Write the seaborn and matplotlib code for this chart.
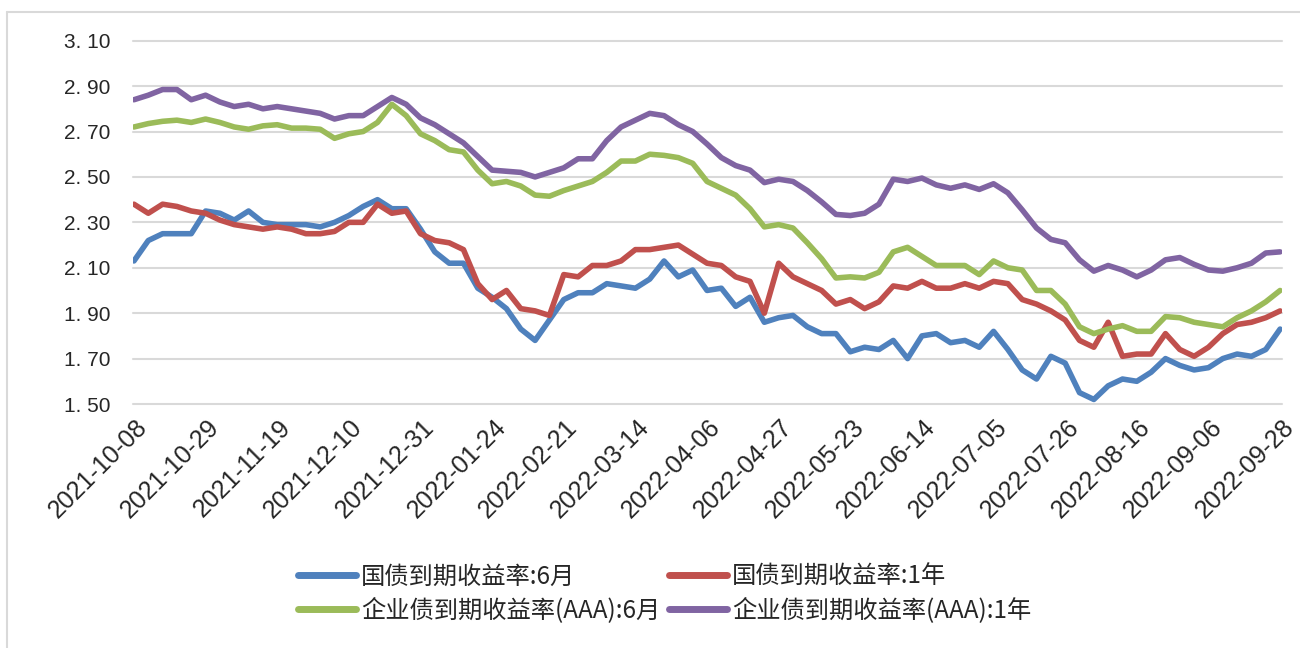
import numpy as np
import pandas as pd
import matplotlib
matplotlib.use("Agg")
import matplotlib.pyplot as plt
import matplotlib.transforms as mtransforms
from matplotlib.lines import Line2D
import seaborn as sns

# === 1. Daten ===
# x-Achse: Handelstage (jeder 3. Handelstag abgelesen), Beschriftung alle 15 Handelstage
tick_labels = [
    "2021-10-08", "2021-10-29", "2021-11-19", "2021-12-10", "2021-12-31",
    "2022-01-24", "2022-02-21", "2022-03-14", "2022-04-06", "2022-04-27",
    "2022-05-23", "2022-06-14", "2022-07-05", "2022-07-26", "2022-08-16",
    "2022-09-06", "2022-09-28",
]
day = np.arange(0, 241, 3)

gz_6m = [2.13, 2.22, 2.25, 2.25, 2.25, 2.35, 2.34, 2.31, 2.35, 2.30,
         2.29, 2.29, 2.29, 2.28, 2.30, 2.33, 2.37, 2.40, 2.36, 2.36,
         2.27, 2.17, 2.12, 2.12, 2.01, 1.97, 1.92, 1.83, 1.78, 1.87,
         1.96, 1.99, 1.99, 2.03, 2.02, 2.01, 2.05, 2.13, 2.06, 2.09,
         2.00, 2.01, 1.93, 1.97, 1.86, 1.88, 1.89, 1.84, 1.81, 1.81,
         1.73, 1.75, 1.74, 1.78, 1.70, 1.80, 1.81, 1.77, 1.78, 1.75,
         1.82, 1.74, 1.65, 1.61, 1.71, 1.68, 1.55, 1.52, 1.58, 1.61,
         1.60, 1.64, 1.70, 1.67, 1.65, 1.66, 1.70, 1.72, 1.71, 1.74, 1.83]

gz_1y = [2.38, 2.34, 2.38, 2.37, 2.35, 2.34, 2.31, 2.29, 2.28, 2.27,
         2.28, 2.27, 2.25, 2.25, 2.26, 2.30, 2.30, 2.38, 2.34, 2.35,
         2.25, 2.22, 2.21, 2.18, 2.03, 1.96, 2.00, 1.92, 1.91, 1.89,
         2.07, 2.06, 2.11, 2.11, 2.13, 2.18, 2.18, 2.19, 2.20, 2.16,
         2.12, 2.11, 2.06, 2.04, 1.90, 2.12, 2.06, 2.03, 2.00, 1.94,
         1.96, 1.92, 1.95, 2.02, 2.01, 2.04, 2.01, 2.01, 2.03, 2.01,
         2.04, 2.03, 1.96, 1.94, 1.91, 1.87, 1.78, 1.75, 1.86, 1.71,
         1.72, 1.72, 1.81, 1.74, 1.71, 1.75, 1.81, 1.85, 1.86, 1.88, 1.91]

qy_6m = [2.72, 2.735, 2.745, 2.75, 2.74, 2.755, 2.74, 2.72, 2.71, 2.725,
         2.73, 2.715, 2.715, 2.71, 2.67, 2.69, 2.70, 2.74, 2.82, 2.77,
         2.69, 2.66, 2.62, 2.61, 2.53, 2.47, 2.48, 2.46, 2.42, 2.415,
         2.44, 2.46, 2.48, 2.52, 2.57, 2.57, 2.60, 2.595, 2.585, 2.56,
         2.48, 2.45, 2.42, 2.36, 2.28, 2.29, 2.275, 2.21, 2.14, 2.055,
         2.06, 2.055, 2.08, 2.17, 2.19, 2.15, 2.11, 2.11, 2.11, 2.07,
         2.13, 2.10, 2.09, 2.00, 2.00, 1.94, 1.84, 1.81, 1.83, 1.845,
         1.82, 1.82, 1.885, 1.88, 1.86, 1.85, 1.84, 1.88, 1.91, 1.95, 2.00]

qy_1y = [2.84, 2.86, 2.885, 2.885, 2.84, 2.86, 2.83, 2.81, 2.82, 2.80,
         2.81, 2.80, 2.79, 2.78, 2.755, 2.77, 2.77, 2.81, 2.85, 2.82,
         2.76, 2.73, 2.69, 2.65, 2.59, 2.53, 2.525, 2.52, 2.50, 2.52,
         2.54, 2.58, 2.58, 2.66, 2.72, 2.75, 2.78, 2.77, 2.73, 2.70,
         2.645, 2.585, 2.55, 2.53, 2.475, 2.49, 2.48, 2.44, 2.39, 2.335,
         2.33, 2.34, 2.38, 2.49, 2.48, 2.495, 2.465, 2.45, 2.465, 2.445,
         2.47, 2.43, 2.355, 2.275, 2.225, 2.21, 2.135, 2.085, 2.11, 2.09,
         2.06, 2.09, 2.135, 2.145, 2.115, 2.09, 2.085, 2.10, 2.12, 2.165, 2.17]

names = ["国债到期收益率:6月", "国债到期收益率:1年",
         "企业债到期收益率(AAA):6月", "企业债到期收益率(AAA):1年"]
colors = ["#4F81BD", "#C0504D", "#9BBB59", "#8064A2"]

df = pd.DataFrame({
    "day": np.tile(day, 4),
    "series": np.repeat(names, len(day)),
    "value": gz_6m + gz_1y + qy_6m + qy_1y,
})

# === 2. Plot ===
sns.set_theme(style="white")
plt.rcParams["font.family"] = ["Liberation Sans", "Noto Sans CJK SC", "DejaVu Sans"]

fig = plt.figure(figsize=(13, 6.48), dpi=100)
ax = fig.add_axes([133 / 1300, 1 - 404 / 648, (1282 - 133) / 1300, (404 - 40.7) / 648])

sns.lineplot(data=df, x="day", y="value", hue="series", hue_order=names,
             palette=colors, linewidth=4, ax=ax, legend=False)

ax.set_xlim(-0.2, 240.4)
ax.set_ylim(1.5, 3.1)
yt = np.round(np.arange(1.5, 3.11, 0.2), 2)
ax.set_yticks(yt)
ax.set_yticklabels([f"{v:.2f}".replace(".", ". ") for v in yt], fontsize=15)
ax.set_xticks(np.arange(0, 241, 15))
ax.set_xticklabels(tick_labels, rotation=45, ha="right", va="top",
                   rotation_mode="anchor", fontsize=18)
ax.tick_params(axis="both", length=0)
ax.tick_params(axis="y", pad=16)
ax.tick_params(axis="x", pad=8)
shift = mtransforms.ScaledTranslation(1 / 72, 0, fig.dpi_scale_trans)
for lbl in ax.get_xticklabels():
    lbl.set_transform(lbl.get_transform() + shift)

ax.grid(axis="y", color="#D9D9D9", linewidth=1.5)
ax.set_axisbelow(True)
for gl in ax.get_ygridlines():
    gl.set_clip_on(False)
for s in ax.spines.values():
    s.set_visible(False)
ax.set_xlabel("")
ax.set_ylabel("")

# Legende zeilenweise (2 Spalten)
handles = [Line2D([], [], color=c, linewidth=5) for c in colors]
order = [0, 2, 1, 3]
fig.legend([handles[i] for i in order], [names[i] for i in order],
           loc="upper left", bbox_to_anchor=(298 / 1300, 1 - 564 / 648),
           ncol=2, frameon=False, handlelength=2.4,
           handletextpad=0.2, columnspacing=0.35, labelspacing=0.3,
           borderpad=0, borderaxespad=0,
           prop={"family": ["Noto Sans CJK SC", "DejaVu Sans"], "size": 17.5})

# Rahmen
fig.add_artist(Line2D([7 / 1300, 1], [1 - 12 / 648] * 2, transform=fig.transFigure,
                      color="#D9D9D9", linewidth=1.5))
fig.add_artist(Line2D([7 / 1300] * 2, [0, 1 - 12 / 648], transform=fig.transFigure,
                      color="#D9D9D9", linewidth=1.5))

fig.savefig("out.png", dpi=100)
